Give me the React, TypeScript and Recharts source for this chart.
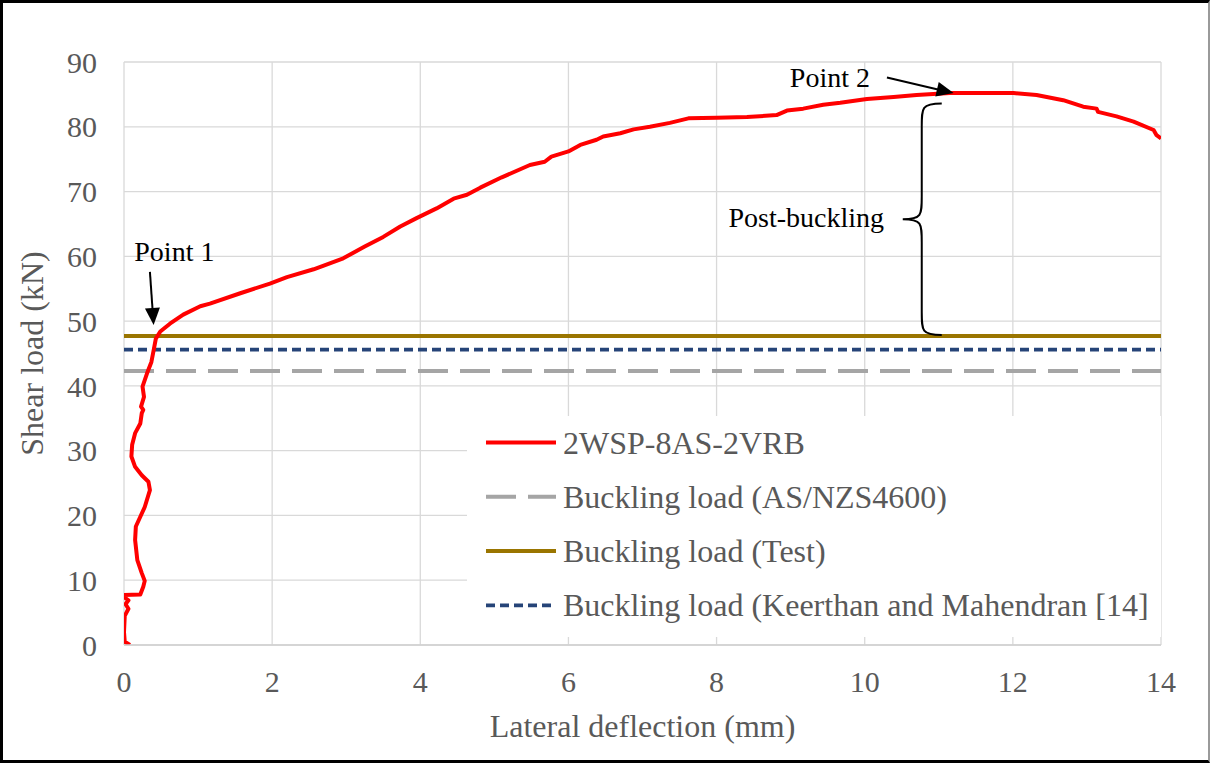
import React from 'react';
import {
  LineChart,
  Line,
  XAxis,
  YAxis,
  CartesianGrid,
  Legend,
  ReferenceLine,
  ReferenceDot,
} from 'recharts';

const FONT = "'Liberation Serif', 'Times New Roman', serif";
const TEXT_GREY = '#595959';

// Measured load–deflection response of specimen 2WSP-8AS-2VRB
const deflection = [
  0.08, 0.01, 0.0, 0.01, 0.06, 0.02, 0.06, 0.0, 0.0, 0.22, 0.26, 0.28, 0.24, 0.18, 0.15, 0.16,
  0.22, 0.28, 0.35, 0.33, 0.24, 0.15, 0.1, 0.11, 0.15, 0.22, 0.24, 0.26, 0.23, 0.27, 0.25, 0.31,
  0.37, 0.4, 0.43, 0.49, 0.62, 0.8, 1.03, 1.16, 1.57, 1.97, 2.2, 2.56, 2.96, 3.25, 3.5, 3.73,
  3.95, 4.22, 4.45, 4.63, 4.81, 5.1, 5.48, 5.68, 5.77, 6.0, 6.16, 6.38, 6.47, 6.7, 6.88, 7.1,
  7.37, 7.62, 8.0, 8.41, 8.81, 8.95, 9.17, 9.44, 9.67, 10.03, 10.39, 10.7, 11.15, 12.01, 12.32,
  12.68, 12.95, 13.13, 13.15, 13.4, 13.63, 13.9, 13.94, 14.0,
];
const shearLoad = [
  0.0, 0.5, 2.0, 4.5, 5.6, 6.3, 6.9, 7.4, 7.7, 7.8, 9.0, 9.9, 11.1, 13.1, 16.2, 18.3,
  19.8, 21.3, 23.9, 25.2, 26.2, 27.5, 29.1, 30.9, 32.7, 34.2, 35.8, 36.3, 36.8, 38.3, 39.9, 41.9,
  43.7, 45.5, 47.3, 48.4, 49.6, 51.0, 52.3, 52.7, 54.3, 55.8, 56.8, 58.0, 59.7, 61.5, 63.0, 64.6,
  65.9, 67.4, 68.9, 69.5, 70.6, 72.2, 74.1, 74.6, 75.4, 76.2, 77.2, 78.0, 78.5, 79.0, 79.6, 80.0,
  80.6, 81.3, 81.4, 81.5, 81.8, 82.5, 82.8, 83.4, 83.7, 84.3, 84.6, 84.9, 85.2, 85.2, 84.9,
  84.1, 83.1, 82.8, 82.3, 81.6, 80.8, 79.5, 78.7, 78.2,
];

// Predicted / observed buckling loads (kN)
const bucklingAS = 42.3;
const bucklingTest = 47.7;
const bucklingKM = 45.6;

const xTicks = [0, 2, 4, 6, 8, 10, 12, 14];
const yTicks = [0, 10, 20, 30, 40, 50, 60, 70, 80, 90];

const seriesNames = [
  '2WSP-8AS-2VRB',
  'Buckling load (AS/NZS4600)',
  'Buckling load (Test)',
  'Buckling load (Keerthan and Mahendran [14]',
];

const curveData = deflection.map((x, i) => ({ x, load: shearLoad[i] }));
const flatLine = (v: number) => [
  { x: xTicks[0], load: v },
  { x: xTicks[xTicks.length - 1], load: v },
];

const series = [
  { name: seriesNames[0], data: curveData, color: '#FF0000', width: 4, dash: undefined as string | undefined },
  { name: seriesNames[1], data: flatLine(bucklingAS), color: '#A5A5A5', width: 4, dash: '30 12' },
  { name: seriesNames[2], data: flatLine(bucklingTest), color: '#9A7500', width: 4, dash: undefined },
  { name: seriesNames[3], data: flatLine(bucklingKM), color: '#264478', width: 3.8, dash: '9 5' },
];

// Drawing order: test line and predictions first, measured curve on top
const drawOrder = [1, 3, 2, 0];

const ArrowShape = (props: any) => {
  const { x1, y1, x2, y2 } = props;
  const dx = x2 - x1;
  const dy = y2 - y1;
  const len = Math.hypot(dx, dy) || 1;
  const ux = dx / len;
  const uy = dy / len;
  const head = 17;
  const half = 7.5;
  const bx = x2 - ux * head;
  const by = y2 - uy * head;
  const px = -uy * half;
  const py = ux * half;
  return (
    <g>
      <line x1={x1} y1={y1} x2={bx + ux * 2} y2={by + uy * 2} stroke="#000" strokeWidth={2} />
      <polygon points={`${x2},${y2} ${bx + px},${by + py} ${bx - px},${by - py}`} fill="#000" />
    </g>
  );
};

const BraceShape = (props: any) => {
  const { x1, y1, y2 } = props;
  const top = Math.min(y1, y2);
  const bot = Math.max(y1, y2);
  const mid = (top + bot) / 2;
  const s = x1;
  const e = s + 20;
  const c = s - 19;
  const r = 23;
  const d = [
    `M ${e} ${top}`,
    `C ${s} ${top} ${s} ${top + 4} ${s} ${top + r}`,
    `L ${s} ${mid - r}`,
    `C ${s} ${mid - 4} ${s} ${mid} ${c} ${mid}`,
    `C ${s} ${mid} ${s} ${mid + 4} ${s} ${mid + r}`,
    `L ${s} ${bot - r}`,
    `C ${s} ${bot - 4} ${s} ${bot} ${e} ${bot}`,
  ].join(' ');
  return <path d={d} fill="none" stroke="#000" strokeWidth={2} />;
};

const makeTextShape = (label: string) => (props: any) => (
  <text
    x={props.cx}
    y={props.cy}
    textAnchor="middle"
    fontFamily={FONT}
    fontSize={28}
    fill="#000"
  >
    {label}
  </text>
);

const LegendBox = () => {
  const rowY0 = 26.5;
  const rowGap = 54.3;
  return (
    <svg width={694} height={221} style={{ display: 'block' }}>
      {series.map((s, i) => {
        const y = rowY0 + i * rowGap;
        return (
          <g key={s.name}>
            <line
              x1={19}
              x2={89}
              y1={y}
              y2={y}
              stroke={s.color}
              strokeWidth={s.width}
              strokeDasharray={s.dash}
            />
            <text x={96} y={y + 11} fontFamily={FONT} fontSize={32} fill={TEXT_GREY}>
              {s.name}
            </text>
          </g>
        );
      })}
    </svg>
  );
};

const XTitle = (props: any) => {
  const { viewBox } = props;
  return (
    <text
      x={viewBox.x + viewBox.width / 2}
      y={viewBox.y + 92}
      textAnchor="middle"
      fontFamily={FONT}
      fontSize={32}
      fill={TEXT_GREY}
    >
      Lateral deflection (mm)
    </text>
  );
};

const YTitle = (props: any) => {
  const { viewBox } = props;
  const cx = 43;
  const cy = viewBox.y + viewBox.height / 2;
  return (
    <text
      x={cx}
      y={cy}
      transform={`rotate(-90, ${cx}, ${cy})`}
      textAnchor="middle"
      fontFamily={FONT}
      fontSize={32}
      fill={TEXT_GREY}
    >
      Shear load (kN)
    </text>
  );
};

export default function App() {
  return (
    <div style={{ position: 'absolute', left: 0, top: 0, width: 1210, height: 763, background: '#fff' }}>
      <LineChart
        width={1210}
        height={763}
        margin={{ top: 62, right: 49, bottom: 0, left: 0 }}
      >
        <CartesianGrid stroke="#d9d9d9" strokeWidth={1.3} />
        <XAxis
          type="number"
          dataKey="x"
          domain={[0, 14]}
          ticks={xTicks}
          allowDataOverflow
          height={118}
          tickLine={false}
          tickSize={0}
          tickMargin={26}
          axisLine={{ stroke: '#d0d0d0', strokeWidth: 1.3 }}
          tick={{ fontFamily: FONT, fontSize: 30, fill: TEXT_GREY }}
          label={<XTitle />}
        />
        <YAxis
          type="number"
          domain={[0, 90]}
          ticks={yTicks}
          allowDataOverflow
          width={124}
          tickLine={false}
          axisLine={false}
          tickSize={0}
          tickMargin={27}
          tick={{ fontFamily: FONT, fontSize: 30, fill: TEXT_GREY }}
          label={<YTitle />}
        />
        {drawOrder.map((idx) => {
          const s = series[idx];
          return (
            <Line
              key={s.name}
              name={s.name}
              data={s.data}
              dataKey="load"
              type="linear"
              stroke={s.color}
              strokeWidth={s.width}
              strokeDasharray={s.dash}
              strokeLinejoin="round"
              dot={false}
              activeDot={false}
              isAnimationActive={false}
            />
          );
        })}
        <ReferenceDot x={0.68} y={59.3} r={0} ifOverflow="visible" shape={makeTextShape('Point 1')} />
        <ReferenceLine
          segment={[{ x: 0.35, y: 57.6 }, { x: 0.4, y: 49.4 }]}
          ifOverflow="visible"
          shape={ArrowShape}
        />
        <ReferenceDot x={9.53} y={86.2} r={0} ifOverflow="visible" shape={makeTextShape('Point 2')} />
        <ReferenceLine
          segment={[{ x: 10.3, y: 87.6 }, { x: 11.2, y: 85.2 }]}
          ifOverflow="visible"
          shape={ArrowShape}
        />
        <ReferenceDot x={9.21} y={64.6} r={0} ifOverflow="visible" shape={makeTextShape('Post-buckling')} />
        <ReferenceLine
          segment={[{ x: 10.77, y: 83.6 }, { x: 10.77, y: 47.85 }]}
          ifOverflow="visible"
          shape={BraceShape}
        />
        <Legend
          layout="vertical"
          align="center"
          verticalAlign="middle"
          wrapperStyle={{ left: 467, top: 416, width: 694, height: 221, background: '#fff' }}
          content={() => <LegendBox />}
        />
      </LineChart>
      <div
        style={{
          position: 'absolute',
          left: 0,
          top: 0,
          width: 1210,
          height: 763,
          boxSizing: 'border-box',
          borderTop: '3px solid #000',
          borderLeft: '3px solid #000',
          borderBottom: '3px solid #000',
          borderRight: '2px solid #9a9a9a',
          pointerEvents: 'none',
        }}
      />
    </div>
  );
}
